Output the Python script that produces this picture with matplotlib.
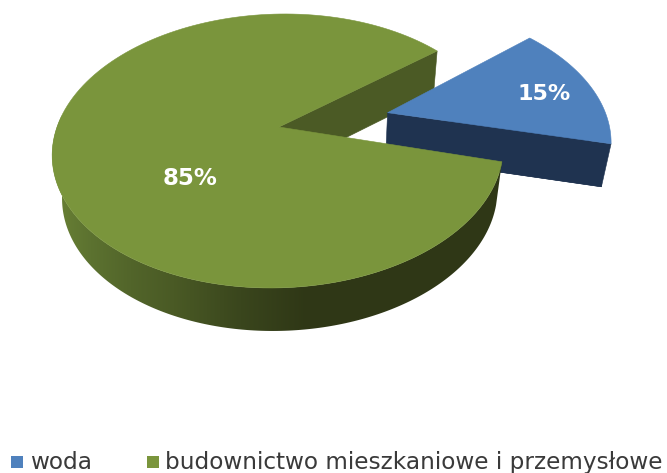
"""Exploded 3D-style pie: share of water versus residential and industrial construction."""
import matplotlib
matplotlib.use("Agg")
import matplotlib.pyplot as plt
import numpy as np
from matplotlib.colors import to_rgb
from matplotlib.patches import Polygon, Rectangle

CATEGORIES = ["woda", "budownictwo mieszkaniowe i przemysłowe"]
SHARES = [15, 85]
LABELS = ["15%", "85%"]

# angle where the first slice starts; slices run clockwise from it
FIRST_ANGLE = 39.5
EXPLODE = 0.507
# the exploded slice sits slightly turned against the cut in the green one
BLUE_TURN = 1.0

COLORS = {
    "blue": "#4f81bd",
    "blue_wall": "#1f3350",
    "green": "#7a953c",
    "green_wall": "#4b5a25",
}
# rim shading, left to right across the image
RIM_X = [52, 90, 130, 173, 240, 307, 510]
RIM_COLORS = ["#6a8235", "#5c7230", "#52652a", "#4a5a25", "#3a461d", "#2f3716", "#2f3716"]

# perspective of the pie plane, in pixels
CX, CY = 279.0, 127.0
RX, RY, TILT, SHEAR = 222.0, 132.8, 0.175, 7.0
# the lower face is the upper one shifted down and pulled towards VANISH_X
DEPTH, SQUEEZE, VANISH_X = 43.0, 0.035, 335.0


def project(u, v):
    w = 1 + TILT * v
    return CX + (RX * u + SHEAR * v) / w, CY - RY * v / w


def lower(x, y):
    return VANISH_X + (x - VANISH_X) * (1 - SQUEEZE), y + DEPTH


def wedge_xy(start, stop, offset=(0.0, 0.0)):
    t = np.radians(np.linspace(start, stop, 160))
    u = np.concatenate([[0.0], np.cos(t)]) + offset[0]
    v = np.concatenate([[0.0], np.sin(t)]) + offset[1]
    return project(u, v)


def fill(ax, x, y, color, zorder):
    ax.add_patch(Polygon(np.column_stack([x, y]), closed=True, facecolor=color,
                         edgecolor=color, linewidth=0.4, zorder=zorder))


fig = plt.figure(figsize=(6.67, 4.73), dpi=100)
ax = fig.add_axes([0, 0, 1, 1])

span = 360.0 * SHARES[0] / sum(SHARES)
cut_start, cut_stop = FIRST_ANGLE, FIRST_ANGLE - span
mid = np.radians((cut_start + cut_stop) / 2)
shift = (EXPLODE * np.cos(mid), EXPLODE * np.sin(mid))

# green slice: wall along the cut that faces the blue slice
px, py = project(np.array([0.0, np.cos(np.radians(FIRST_ANGLE))]),
                 np.array([0.0, np.sin(np.radians(FIRST_ANGLE))]))
qx, qy = lower(px, py)
fill(ax, np.r_[px, qx[::-1]], np.r_[py, qy[::-1]], COLORS["green_wall"], 1)

# blue slice, moved out along its bisector
x, y = wedge_xy(cut_start + BLUE_TURN, cut_stop + BLUE_TURN, shift)
lx, ly = lower(x, y)
fill(ax, lx, ly, COLORS["blue_wall"], 2)
fill(ax, np.r_[x[0], x[-1], lx[-1], lx[0]], np.r_[y[0], y[-1], ly[-1], ly[0]], COLORS["blue_wall"], 2)
fill(ax, x, y, COLORS["blue"], 3)

# green rim: horizontal gradient clipped to the front-facing band
t = np.radians(np.linspace(175, cut_stop + 360.0, 200))
sx, sy = project(np.cos(t), np.sin(t))
bx, by = lower(sx, sy)
xs = np.arange(0, 667)
rgb = np.array([to_rgb(c) for c in RIM_COLORS])
gradient = np.stack([np.interp(xs, RIM_X, rgb[:, i]) for i in range(3)], axis=-1)[np.newaxis, :, :]
im = ax.imshow(gradient, extent=(0, 667, 473, 0), aspect="auto", zorder=4)
band = Polygon(np.column_stack([np.r_[sx, bx[::-1]], np.r_[sy, by[::-1]]]), closed=True,
               transform=ax.transData, facecolor="none", edgecolor="none")
ax.add_patch(band)
im.set_clip_path(band)

# green top face
x, y = wedge_xy(cut_stop, cut_stop - 360.0 * SHARES[1] / sum(SHARES))
fill(ax, x, y, COLORS["green"], 5)

ax.text(544, 94, LABELS[0], color="white", fontsize=16, fontweight="bold", ha="center", va="center", zorder=6)
ax.text(190, 178, LABELS[1], color="white", fontsize=16.5, fontweight="bold", ha="center", va="center", zorder=6)

# legend row
for rx, tx, name, color in zip([11, 147], [30, 165], CATEGORIES, [COLORS["blue"], COLORS["green"]]):
    ax.add_patch(Rectangle((rx, 456), 12, 12, facecolor=color, edgecolor="none"))
    ax.text(tx, 469, name, color="#3a3a3a", fontsize=16.7, fontfamily="DejaVu Sans",
            ha="left", va="baseline")

ax.set_xlim(0, 667)
ax.set_ylim(473, 0)
ax.axis("off")
fig.savefig("out.png", dpi=100)
